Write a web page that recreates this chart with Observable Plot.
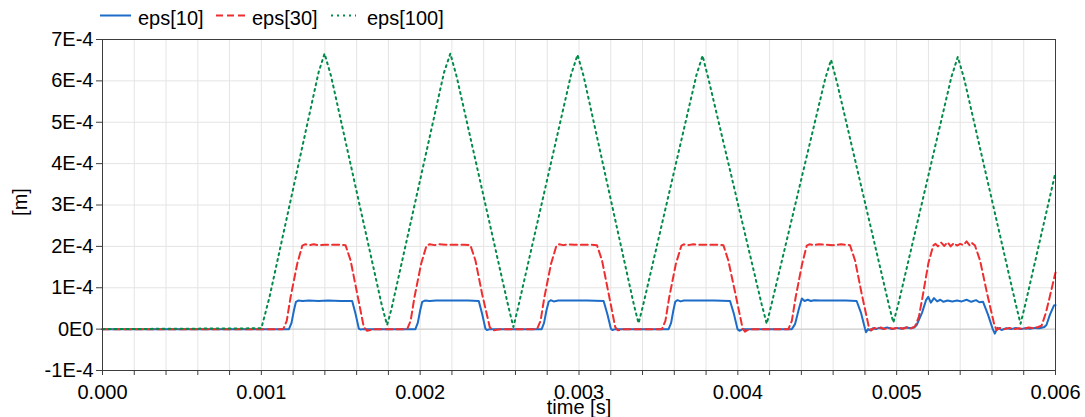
<!DOCTYPE html>
<html><head><meta charset="utf-8">
<script src="https://cdn.jsdelivr.net/npm/d3@7"></script>
<script src="https://cdn.jsdelivr.net/npm/@observablehq/plot@0.6"></script>
<style>
body{margin:0;background:#fff;font-family:"Liberation Sans",Arial,sans-serif;}
#wrap{position:relative;width:1085px;height:417px;overflow:hidden;}
#legend{position:absolute;left:0;top:0;}
</style></head><body><div id="wrap"><div id="chart"></div><div id="legend"></div></div>
<script>
// time in ms, values in 1E-4 m
const eps10 = [[0,0],[1.174,0],[1.19,0.15],[1.205,0.45],[1.218,0.66],[1.232,0.69],[1.26,0.68],[1.30,0.69],[1.36,0.68],[1.42,0.69],[1.50,0.68],[1.572,0.68],[1.593,0.37],[1.614,0.01],[1.625,-0.01],[1.64,0],
[1.970,0],[1.985,0.15],[2.0,0.45],[2.013,0.66],[2.03,0.69],[2.06,0.68],[2.10,0.69],[2.20,0.69],[2.30,0.69],[2.369,0.68],[2.39,0.37],[2.411,0.01],[2.42,-0.02],[2.44,0],
[2.765,0],[2.78,0.15],[2.795,0.45],[2.809,0.66],[2.822,0.70],[2.84,0.67],[2.87,0.69],[2.95,0.69],[3.05,0.69],[3.155,0.68],[3.178,0.37],[3.201,0.01],[3.21,-0.02],[3.23,0],
[3.564,0],[3.58,0.15],[3.594,0.45],[3.606,0.66],[3.62,0.70],[3.64,0.67],[3.66,0.69],[3.75,0.69],[3.85,0.69],[3.951,0.68],[3.975,0.37],[3.998,0.0],[4.01,-0.04],[4.03,0],
[4.34,0],[4.36,0.12],[4.385,0.5],[4.403,0.74],[4.42,0.68],[4.44,0.71],[4.46,0.68],[4.48,0.70],[4.52,0.69],[4.60,0.69],[4.68,0.69],[4.748,0.68],[4.775,0.40],[4.80,0.02],[4.807,-0.075],[4.82,0.0],[4.835,-0.03],[4.85,0.02],[4.87,0.0],[4.89,0.03],[4.91,0.01],[4.94,0.04],[4.97,0.0],[5.0,0.03],[5.03,0.01],[5.06,0.04],[5.09,0.02],[5.11,0.04],
[5.126,0.1],[5.16,0.4],[5.185,0.7],[5.199,0.78],[5.215,0.64],[5.235,0.75],[5.255,0.67],[5.275,0.71],[5.295,0.66],[5.32,0.69],[5.35,0.67],[5.38,0.69],[5.41,0.67],[5.44,0.71],[5.47,0.66],[5.50,0.70],[5.52,0.65],[5.544,0.66],[5.575,0.35],[5.605,0.0],[5.618,-0.11],[5.635,0.03],[5.66,-0.02],[5.69,0.02],[5.72,0.0],[5.75,0.03],[5.78,0.0],[5.81,0.02],[5.84,0.01],[5.87,0.03],[5.90,0.02],[5.93,0.05],[5.943,0.1],[5.965,0.35],[5.99,0.57],[6.0,0.58]];

const eps30 = [[0,0],[1.138,0],[1.16,0.2],[1.184,0.77],[1.226,1.58],[1.258,2.02],[1.275,2.05],[1.30,2.03],[1.33,2.05],[1.36,2.03],[1.40,2.04],[1.45,2.04],[1.50,2.04],[1.530,2.03],[1.562,1.66],[1.604,0.85],[1.645,0.05],[1.666,-0.04],[1.70,-0.01],[1.73,0],
[1.918,0],[1.94,0.2],[1.964,0.77],[2.006,1.58],[2.04,2.02],[2.06,2.05],[2.09,2.03],[2.12,2.05],[2.16,2.04],[2.22,2.04],[2.28,2.04],[2.316,2.03],[2.348,1.66],[2.39,0.85],[2.438,0.05],[2.455,-0.03],[2.49,-0.01],[2.52,0],
[2.736,0],[2.758,0.2],[2.782,0.77],[2.824,1.58],[2.858,2.02],[2.875,2.05],[2.90,2.03],[2.93,2.05],[2.97,2.04],[3.03,2.04],[3.08,2.04],[3.113,2.03],[3.145,1.66],[3.187,0.85],[3.228,0.05],[3.245,-0.03],[3.28,0],
[3.522,0],[3.544,0.2],[3.568,0.77],[3.61,1.58],[3.645,2.02],[3.66,2.05],[3.69,2.03],[3.72,2.05],[3.76,2.04],[3.82,2.04],[3.87,2.04],[3.909,2.03],[3.94,1.66],[3.985,0.85],[4.03,0.02],[4.045,-0.06],[4.07,0],
[4.318,0],[4.34,0.2],[4.364,0.77],[4.405,1.58],[4.434,2.02],[4.45,2.05],[4.48,2.03],[4.51,2.05],[4.55,2.04],[4.60,2.03],[4.65,2.05],[4.706,2.03],[4.738,1.66],[4.78,0.85],[4.825,0.05],[4.84,-0.03],[4.86,0.03],[4.88,0.0],[4.90,0.04],[4.92,0.0],[4.95,0.03],[4.98,0.01],[5.01,0.04],[5.04,0.01],[5.07,0.05],[5.09,0.02],[5.115,0.06],
[5.14,0.3],[5.164,0.8],[5.20,1.6],[5.23,2.02],[5.245,2.06],[5.26,2.0],[5.28,2.09],[5.30,2.01],[5.32,2.1],[5.34,2.0],[5.36,2.08],[5.38,2.02],[5.40,2.06],[5.42,2.03],[5.44,2.12],[5.46,2.02],[5.475,2.08],[5.493,2.02],[5.525,1.66],[5.57,0.85],[5.615,0.1],[5.63,-0.02],[5.65,0.03],[5.68,0.0],[5.71,0.03],[5.74,0.0],[5.77,0.02],[5.80,0.0],[5.83,0.04],[5.86,0.02],[5.89,0.05],[5.912,0.08],[5.94,0.4],[5.965,0.8],[6.0,1.37]];

const eps100 = [[0,0],[1.0,0.02],[1.05,0.75],[1.36,6.2],[1.398,6.66],[1.44,6.1],[1.76,0.55],[1.792,0.1],[1.82,0.5],[2.15,6.2],[2.19,6.66],[2.23,6.1],[2.555,0.55],[2.587,0.05],[2.615,0.5],[2.95,6.15],[2.991,6.63],[3.03,6.1],[3.345,0.6],[3.375,0.14],[3.405,0.6],[3.74,6.15],[3.778,6.61],[3.815,6.05],[4.15,0.6],[4.182,0.13],[4.212,0.6],[4.55,6.05],[4.587,6.51],[4.625,5.95],[4.95,0.6],[4.979,0.16],[5.01,0.6],[5.345,6.1],[5.385,6.58],[5.425,6.05],[5.75,0.6],[5.78,0.13],[5.81,0.6],[6.0,3.79]];

const seriesNames = ["eps[10]","eps[30]","eps[100]"];
const seriesColors = ["#1c6cc8","#ee2e2f","#008c48"];
const seriesDash = [null,"7,4","2,4"];

const yTicks = [-1,0,1,2,3,4,5,6,7];
const yLabels = ["-1E-4","0E0","1E-4","2E-4","3E-4","4E-4","5E-4","6E-4","7E-4"];
const xMajor = [0,1,2,3,4,5,6];
const xLabels = ["0.000","0.001","0.002","0.003","0.004","0.005","0.006"];
const xMinor = [0,0.2,0.4,0.6,0.8,1,1.2,1.4,1.6,1.8,2,2.2,2.4,2.6,2.8,3,3.2,3.4,3.6,3.8,4,4.2,4.4,4.6,4.8,5,5.2,5.4,5.6,5.8,6];

const all = [eps10, eps30, eps100];
const gridColor = "#e4e4e4";
const font = "'Liberation Sans', Arial, sans-serif";

const chart = Plot.plot({
  width: 1085, height: 417,
  marginTop: 39, marginBottom: 47, marginLeft: 102, marginRight: 30,
  style: {fontFamily: font, fontSize: "20px", color: "#000", background: "#fff"},
  x: {domain: [0, 6]},
  y: {domain: [-1, 7]},
  marks: [
    Plot.gridX(xMinor, {stroke: gridColor, strokeOpacity: 1}),
    Plot.gridY(yTicks, {stroke: gridColor, strokeOpacity: 1}),
    Plot.ruleY([0], {stroke: "#c8c8c8"}),
    ...all.map((data, i) => Plot.line(data, {
      x: d => d[0], y: d => d[1],
      stroke: seriesColors[i], strokeWidth: 2,
      strokeDasharray: seriesDash[i] || undefined
    })),
    Plot.frame({stroke: "#3c3c3c"}),
    Plot.axisY(yTicks, {tickSize: 6, tickPadding: 3, stroke: "#3c3c3c",
      tickFormat: d => yLabels[yTicks.indexOf(d)], label: null}),
    Plot.axisX(xMinor, {tickSize: 5, stroke: "#3c3c3c", tickFormat: () => "", label: null}),
    Plot.axisX(xMajor, {tickSize: 0, tickPadding: 14,
      tickFormat: d => xLabels[xMajor.indexOf(d)], label: null}),
    Plot.text(["[m]"], {text: d => d, frameAnchor: "left", dx: -82, dy: -3, rotate: -90,
      fontSize: 20, lineAnchor: "middle", textAnchor: "middle"}),
    Plot.text(["time [s]"], {text: d => d, frameAnchor: "bottom", dy: 37,
      fontSize: 20, lineAnchor: "middle", textAnchor: "middle"})
  ]
});
document.getElementById("chart").appendChild(chart);

// legend
const legendX = [[100,131,138],[216,247,252],[331,356,367]];
const lg = d3.select("#legend").append("svg").attr("width", 470).attr("height", 34)
  .style("font-family", font).style("font-size", "20px");
seriesNames.forEach((name, i) => {
  const [x0, x1, tx] = legendX[i];
  lg.append("line").attr("x1", x0).attr("x2", x1).attr("y1", 15.5).attr("y2", 15.5)
    .attr("stroke", seriesColors[i]).attr("stroke-width", 2)
    .attr("stroke-dasharray", seriesDash[i]);
  lg.append("text").attr("x", tx).attr("y", 25).attr("fill", "#000").text(name);
});
</script></body></html>
